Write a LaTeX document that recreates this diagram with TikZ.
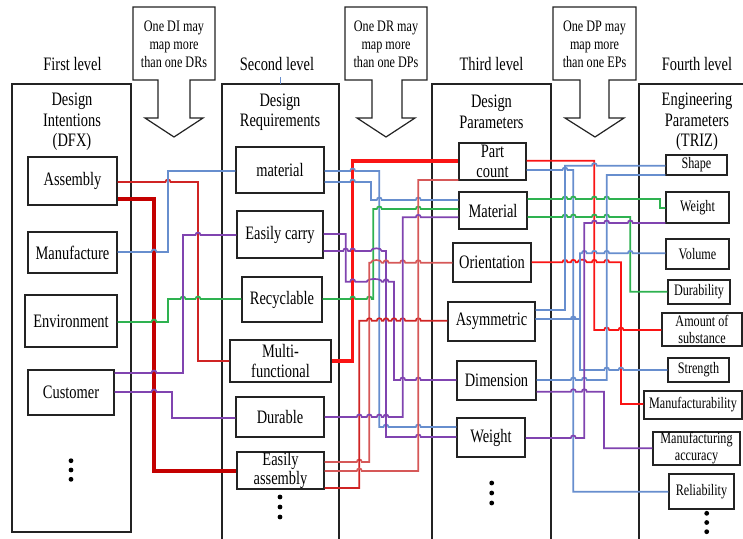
\documentclass[tikz,border=0pt]{standalone}
\usepackage{fontspec}
\setmainfont{Liberation Serif}[FakeStretch=0.76]
\newcommand\bigf{\fontsize{19}{20.5}\selectfont}
\newcommand\smallf{\fontsize{16}{18}\selectfont}
% small line hops over crossed verticals (path runs left to right)
\newcommand\hops[2]{\foreach \hx in {#2}{ -- (\hx-2.5,#1) .. controls (\hx-2.5,#1-3.3) and (\hx+2.5,#1-3.3) .. (\hx+2.5,#1)}}
\newcommand\hump[3]{ -- (#2-2.5,#1) .. controls (#2-2.5,#1-3.6) and (#3+2.5,#1-3.6) .. (#3+2.5,#1)}
\definecolor{cblue}{RGB}{103,142,206}
\definecolor{cdred}{RGB}{196,0,0}
\definecolor{cbred}{RGB}{250,20,20}
\definecolor{cred}{RGB}{208,36,36}
\definecolor{clred}{RGB}{214,88,88}
\definecolor{cgreen}{RGB}{46,178,80}
\definecolor{cpurple}{RGB}{128,68,176}
\definecolor{cline}{RGB}{35,35,35}
\begin{document}
\begin{tikzpicture}[x=1pt,y=-1pt,
  nbox/.style={draw=cline, line width=1.3pt, fill=white, inner sep=0pt, align=center, font=\bigf},
  sbox/.style={nbox, font=\smallf},
  bigbox/.style={draw=cline, line width=1.1pt},
  callout/.style={draw=cline, line width=1.2pt, fill=white},
  note/.style={inner sep=0pt, align=center, font=\smallf},
  hdr/.style={inner sep=0pt, align=center, font=\bigf},
  lvl/.style={inner sep=0pt, anchor=base, font=\bigf},
  con/.style={line width=1.7pt},
  thick con/.style={line width=3.3pt},
  dot/.style={fill=black}]
\fill[white] (0,0) rectangle (743,538);
\useasboundingbox (0,0) rectangle (743,538);
\clip (0,0) rectangle (743,538);

% level frames
\draw[bigbox] (12,84) rectangle (131,532);
\draw[bigbox] (222,545) -- (222,84) -- (339,84) -- (339,545);
\draw[bigbox] (432,545) -- (432,84) -- (551,84) -- (551,545);
\draw[bigbox] (639,545) -- (639,84) -- (750,84);

% level titles
\node[lvl] (l1) at (72.5,70) {First level};
\node[lvl] (l2) at (277,70) {Second level};
\node[lvl] (l3) at (491.5,70) {Third level};
\node[lvl] (l4) at (697,70) {Fourth level};
\draw[cblue, line width=1pt] (280,77) -- (280,84);

\node[hdr] (h1) at (72,122) {Design\\Intentions\\(DFX)};
\node[hdr] (h2) at (280,112) {Design\\Requirements};
\node[hdr] (h3) at (491.5,112) {Design\\Parameters};
\node[hdr] (h4) at (697,122) {Engineering\\Parameters\\(TRIZ)};

% mapping callouts
\draw[callout] (133,7) -- (215,7) -- (215,80) -- (190,80) -- (190,118) -- (203,118) -- (174,137) -- (145,118) -- (158,118) -- (158,80) -- (133,80) -- cycle;
\draw[callout] (345,7) -- (427,7) -- (427,80) -- (402,80) -- (402,118) -- (415,118) -- (386,137) -- (357,118) -- (372,118) -- (372,80) -- (345,80) -- cycle;
\draw[callout] (553,7) -- (636,7) -- (636,80) -- (609,80) -- (609,118) -- (624,118) -- (595,137) -- (565,118) -- (580,118) -- (580,80) -- (553,80) -- cycle;
\node[note] (c1) at (174,44) {One DI may\\map more\\than one DRs};
\node[note] (c2) at (386,44) {One DR may\\map more\\than one DPs};
\node[note] (c3) at (594.5,44) {One DP may\\map more\\than one EPs};

% nodes of the four levels
\node[nbox, minimum width=89pt, minimum height=48pt] (assembly) at (72.5,181) {Assembly};
\node[nbox, minimum width=89pt, minimum height=41pt] (manuf) at (72.5,252.5) {Manufacture};
\node[nbox, minimum width=92pt, minimum height=52pt] (envir) at (71,321) {Environment};
\node[nbox, minimum width=86pt, minimum height=45pt] (cust) at (71,392.5) {Customer};

\node[nbox, minimum width=88pt, minimum height=46pt] (material) at (280,170) {material};
\node[nbox, minimum width=86pt, minimum height=47pt] (ecarry) at (280,234.5) {Easily carry};
\node[nbox, minimum width=80pt, minimum height=45pt] (recyc) at (282,299.5) {Recyclable};
\node[nbox, minimum width=101pt, minimum height=42pt] (multi) at (280.5,361) {Multi-\\functional};
\node[nbox, minimum width=88pt, minimum height=40pt] (durable) at (280,417) {Durable};
\node[nbox, minimum width=87pt, minimum height=37pt, font=\fontsize{19}{19}\selectfont] (eassem) at (280.5,470.5) {Easily\\assembly};

\node[nbox, minimum width=67pt, minimum height=37pt, font=\fontsize{19}{19.5}\selectfont] (partc) at (492.5,161.5) {Part\\count};
\node[nbox, minimum width=68pt, minimum height=37pt] (matl) at (493,210.5) {Material};
\node[nbox, minimum width=78pt, minimum height=39pt] (orient) at (492,262.5) {Orientation};
\node[nbox, minimum width=87pt, minimum height=39pt] (asym) at (491.5,321.5) {Asymmetric};
\node[nbox, minimum width=79pt, minimum height=39pt] (dimen) at (496.5,380.5) {Dimension};
\node[nbox, minimum width=68pt, minimum height=39pt] (weight3) at (491,437.5) {Weight};

\node[sbox, minimum width=61pt, minimum height=20pt] (shape) at (696.5,165) {Shape};
\node[sbox, minimum width=63pt, minimum height=31pt] (weight4) at (697.5,207.5) {Weight};
\node[sbox, minimum width=63pt, minimum height=30pt] (volume) at (697.5,254) {Volume};
\node[sbox, minimum width=62pt, minimum height=24pt] (durab) at (699,292) {Durability};
\node[sbox, minimum width=80pt, minimum height=33pt, font=\fontsize{16}{16.5}\selectfont] (amount) at (702,329.5) {Amount of\\substance};
\node[sbox, minimum width=61pt, minimum height=24pt] (strength) at (698.5,370) {Strength};
\node[sbox, minimum width=98pt, minimum height=28pt] (mfgab) at (693,405) {Manufacturability};
\node[sbox, minimum width=87pt, minimum height=33pt, font=\fontsize{16}{17}\selectfont] (mfgacc) at (696.5,448.5) {Manufacturing\\accuracy};
\node[sbox, minimum width=65pt, minimum height=35pt] (reliab) at (701.5,491.5) {Reliability};

% first to second level
\draw[con, cred] (assembly.east |- 0,182) \hops{182}{168} -- (198,182) -- (198,361) -- (multi.west |- 0,361);
\draw[thick con, cdred] (assembly.east |- 0,199) -- (154,199) -- (154,471) -- (eassem.west |- 0,471);
\draw[con, cblue] (manuf.east |- 0,252) \hops{252}{154} -- (168,252) -- (168,171) -- (material.west |- 0,171);
\draw[con, cgreen] (envir.east |- 0,322) \hops{322}{154} -- (168,322) -- (168,299) \hops{299}{183,198} -- (recyc.west |- 0,299);
\draw[con, cpurple] (cust.east |- 0,373) \hops{373}{154} -- (183,373) -- (183,235) \hops{235}{198} -- (ecarry.west |- 0,235);
\draw[con, cpurple] (cust.east |- 0,392) \hops{392}{154} -- (172,392) -- (172,418) -- (durable.west |- 0,418);

% second to third level
\draw[thick con, cbred] (multi.east |- 0,361) -- (352.7,361) -- (352.7,161) -- (partc.west |- 0,161);
\draw[con, cblue] (material.east |- 0,182) \hops{182}{352.7} -- (371,182) -- (371,200) \hops{200}{379.3,418.3} -- (matl.west |- 0,200);
\draw[con, cblue] (material.east |- 0,171) \hops{171}{352.7} -- (379.3,171) -- (379.3,427) \hops{427}{386,418.3} -- (weight3.west |- 0,427);
\draw[con, cgreen] (recyc.east |- 0,299) \hops{299}{352.7,369.3} -- (373.3,299) -- (373.3,209) \hops{209}{379.3,418.3} -- (matl.west |- 0,209);
\draw[con, cpurple] (ecarry.east |- 0,234) -- (345.7,234) -- (345.7,281.7) \hops{281.7}{352.7} \hump{281.7}{369.3}{379.3} \hops{281.7}{386} -- (394,281.7) -- (394,380) \hops{380}{402.7,418.3} -- (dimen.west |- 0,380);
\draw[con, cpurple] (ecarry.east |- 0,251) \hops{251}{345.7,352.7} \hump{251}{373.3}{379.3} -- (386,251) -- (386,437) \hops{437}{418.3} -- (weight3.west |- 0,437);
\draw[con, clred] (eassem.east |- 0,462) \hops{462}{359.3} -- (369.3,462) -- (369.3,262.7) \hump{262.7}{373.3}{379.3} \hops{262.7}{386,402.7,418.3} -- (orient.west |- 0,262.7);
\draw[con, cred] (eassem.east |- 0,488) -- (359.3,488) -- (359.3,320.7) \hops{320.7}{369.3,379.3,386,394,402.7,418.3} -- (asym.west |- 0,320.7);
\draw[con, clred] (eassem.east |- 0,471) \hops{471}{359.3} -- (418.3,471) -- (418.3,180) -- (partc.west |- 0,180);
\draw[con, cpurple] (durable.east |- 0,417) \hops{417}{359.3,369.3,379.3,386} -- (402.7,417) -- (402.7,217.3) \hops{217.3}{418.3} -- (matl.west |- 0,217.3);

% third to fourth level
\draw[con, cbred] (partc.east |- 0,160.7) -- (594.3,160.7) -- (594.3,330) \hops{330}{606.7,621} -- (amount.west |- 0,330);
\draw[con, cblue] (partc.east |- 0,170) \hops{170}{565} -- (573.3,170) -- (573.3,491.7) -- (reliab.west |- 0,491.7);
\draw[con, cgreen] (matl.east |- 0,199) \hops{199}{565,573.3,594.3,606.7} -- (660,199) -- (660,208) -- (weight4.west |- 0,208);
\draw[con, cgreen] (matl.east |- 0,217) \hops{217}{565,573.3,594.3,606.7} -- (630.3,217) -- (630.3,291.7) -- (durab.west |- 0,291.7);
\draw[con, cbred] (orient.east |- 0,262.3) \hops{262.3}{565,573.3} \hump{262.3}{580}{584.3} \hops{262.3}{594.3,606.7} -- (621,262.3) -- (621,404) -- (mfgab.west |- 0,404);
\draw[con, cblue] (asym.east |- 0,310) -- (565,310) -- (565,165.7) \hops{165.7}{594.3} -- (shape.west |- 0,165.7);
\draw[con, cblue] (asym.east |- 0,319) \hops{319}{573.3} -- (580,319) -- (580,253.3) \hops{253.3}{584.3,594.3,606.7,630.3} -- (volume.west |- 0,253.3);
\draw[con, cblue] (asym.east |- 0,319) -- (580,319) -- (580,370) \hops{370}{606.7,621} -- (strength.west |- 0,370);
\draw[con, cblue] (dimen.east |- 0,380) \hops{380}{573.3,584.3} -- (606.7,380) -- (606.7,175) -- (shape.west |- 0,175);
\draw[con, cpurple] (dimen.east |- 0,391.7) \hops{391.7}{573.3,584.3} -- (604,391.7) -- (604,448.3) -- (mfgacc.west |- 0,448.3);
\draw[con, cpurple] (weight3.east |- 0,438) \hops{438}{573.3} -- (584.3,438) -- (584.3,223) \hops{223}{594.3,606.7,630.3} -- (weight4.west |- 0,223);

% continuation dots
\foreach \yy in {460.7,470,479.3} \fill[dot] (71,\yy) circle (2.4pt);
\foreach \yy in {497,507,517} \fill[dot] (280,\yy) circle (2.4pt);
\foreach \yy in {483,493,503} \fill[dot] (491.7,\yy) circle (2.4pt);
\foreach \yy in {513.3,522.5,531.7} \fill[dot] (706.7,\yy) circle (2.4pt);
\end{tikzpicture}
\end{document}
